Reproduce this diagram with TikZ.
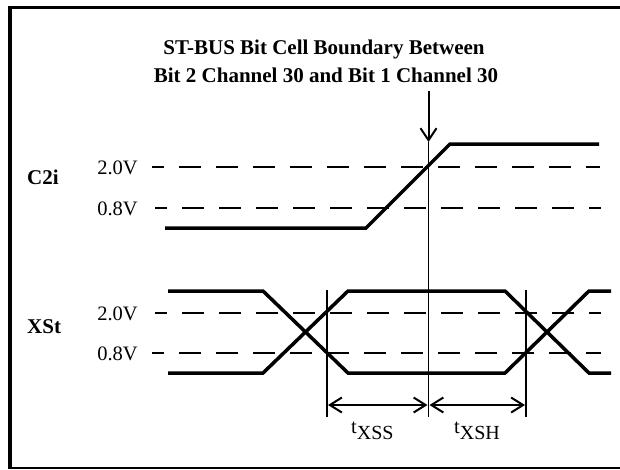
\documentclass[tikz,border=0pt]{standalone}
\usepackage{fontspec}
\setmainfont{Liberation Serif}
\usetikzlibrary{arrows.meta}
\begin{document}
\begin{tikzpicture}[x=1pt,y=-1pt,
  sig/.style={line width=3.5pt,line join=miter},
  thr/.style={line width=2pt,dash pattern=on 22pt off 15pt,dash phase=10pt},
  guide/.style={line width=1.4pt},
  dim/.style={line width=2pt,{Straight Barb[length=12pt,width=15pt,line width=2pt]}-{Straight Barb[length=12pt,width=15pt,line width=2pt]}},
  lbl/.style={font=\fontsize{20.5}{22}\selectfont,inner sep=0pt},
  sname/.style={font=\fontsize{21}{22}\selectfont\bfseries,inner sep=0pt},
  ttl/.style={font=\fontsize{21}{24}\selectfont\bfseries,inner sep=0pt}]
\useasboundingbox (0,0) rectangle (620,469);
% frame
\draw[line width=2.7pt] (8,7.5) -- (620,7.5);
\draw[line width=4pt] (10,6) -- (10,468);
\draw[line width=1.5pt] (8,467.8) -- (620,467.8);
% title
\node[ttl,anchor=base] (t1) at (324,54) {ST-BUS Bit Cell Boundary Between};
\node[ttl,anchor=base] (t2) at (326,82) {Bit 2 Channel 30 and Bit 1 Channel 30};
% signal names
\node[sname,anchor=base west] (c2i) at (27,184) {C2i};
\node[sname,anchor=base west] (xst) at (27,333) {XSt};
% threshold labels
\node[lbl,anchor=base east] (c20) at (138,174) {2.0V};
\node[lbl,anchor=base east] (c08) at (138,215) {0.8V};
\node[lbl,anchor=base east] (x20) at (138,320) {2.0V};
\node[lbl,anchor=base east] (x08) at (138,360) {0.8V};
% threshold dashed lines
\draw[thr] (152,167) -- (600,167);
\draw[thr] (155,208) -- (601,208);
\draw[thr] (155,313) -- (601,313);
\draw[thr] (152,353) -- (601,353);
% C2i waveform
\draw[sig] (165,228) -- (366,228) -- (450,144) -- (599,144);
% XSt waveform
\draw[sig] (168,291) -- (263,291) -- (348,373) -- (505,373) -- (589,291) -- (611,291);
\draw[sig] (168,373) -- (263,373) -- (348,291) -- (505,291) -- (589,373) -- (611,373);
% boundary line and arrow
\coordinate (btop) at (428.5,91);
\coordinate (btip) at (428.5,142);
\coordinate (bbot) at (428.5,417);
\draw[line width=2pt,-{Straight Barb[length=12pt,width=16pt,line width=2pt]}] (btop) -- (btip);
\draw[guide] (btip) -- (bbot);
% guide lines
\coordinate (ltop) at (327,290);
\coordinate (lbot) at (327,417);
\coordinate (rtop) at (526,290);
\coordinate (rbot) at (526,417);
\draw[guide] (ltop) -- (lbot);
\draw[guide] (rtop) -- (rbot);
% dimension arrows
\coordinate (dl) at (327,405);
\coordinate (dm) at (428.5,405);
\coordinate (dr) at (526,405);
\draw[dim] ([xshift=1pt]dl) -- ([xshift=-1pt]dm);
\draw[dim] ([xshift=1pt]dm) -- ([xshift=-1pt]dr);
\node[lbl,anchor=base west] (tss) at (351,433) {t\raisebox{-6pt}{\fontsize{20}{22}\selectfont XSS}};
\node[lbl,anchor=base west] (tsh) at (454,433) {t\raisebox{-6pt}{\fontsize{20}{22}\selectfont XSH}};
\end{tikzpicture}
\end{document}
